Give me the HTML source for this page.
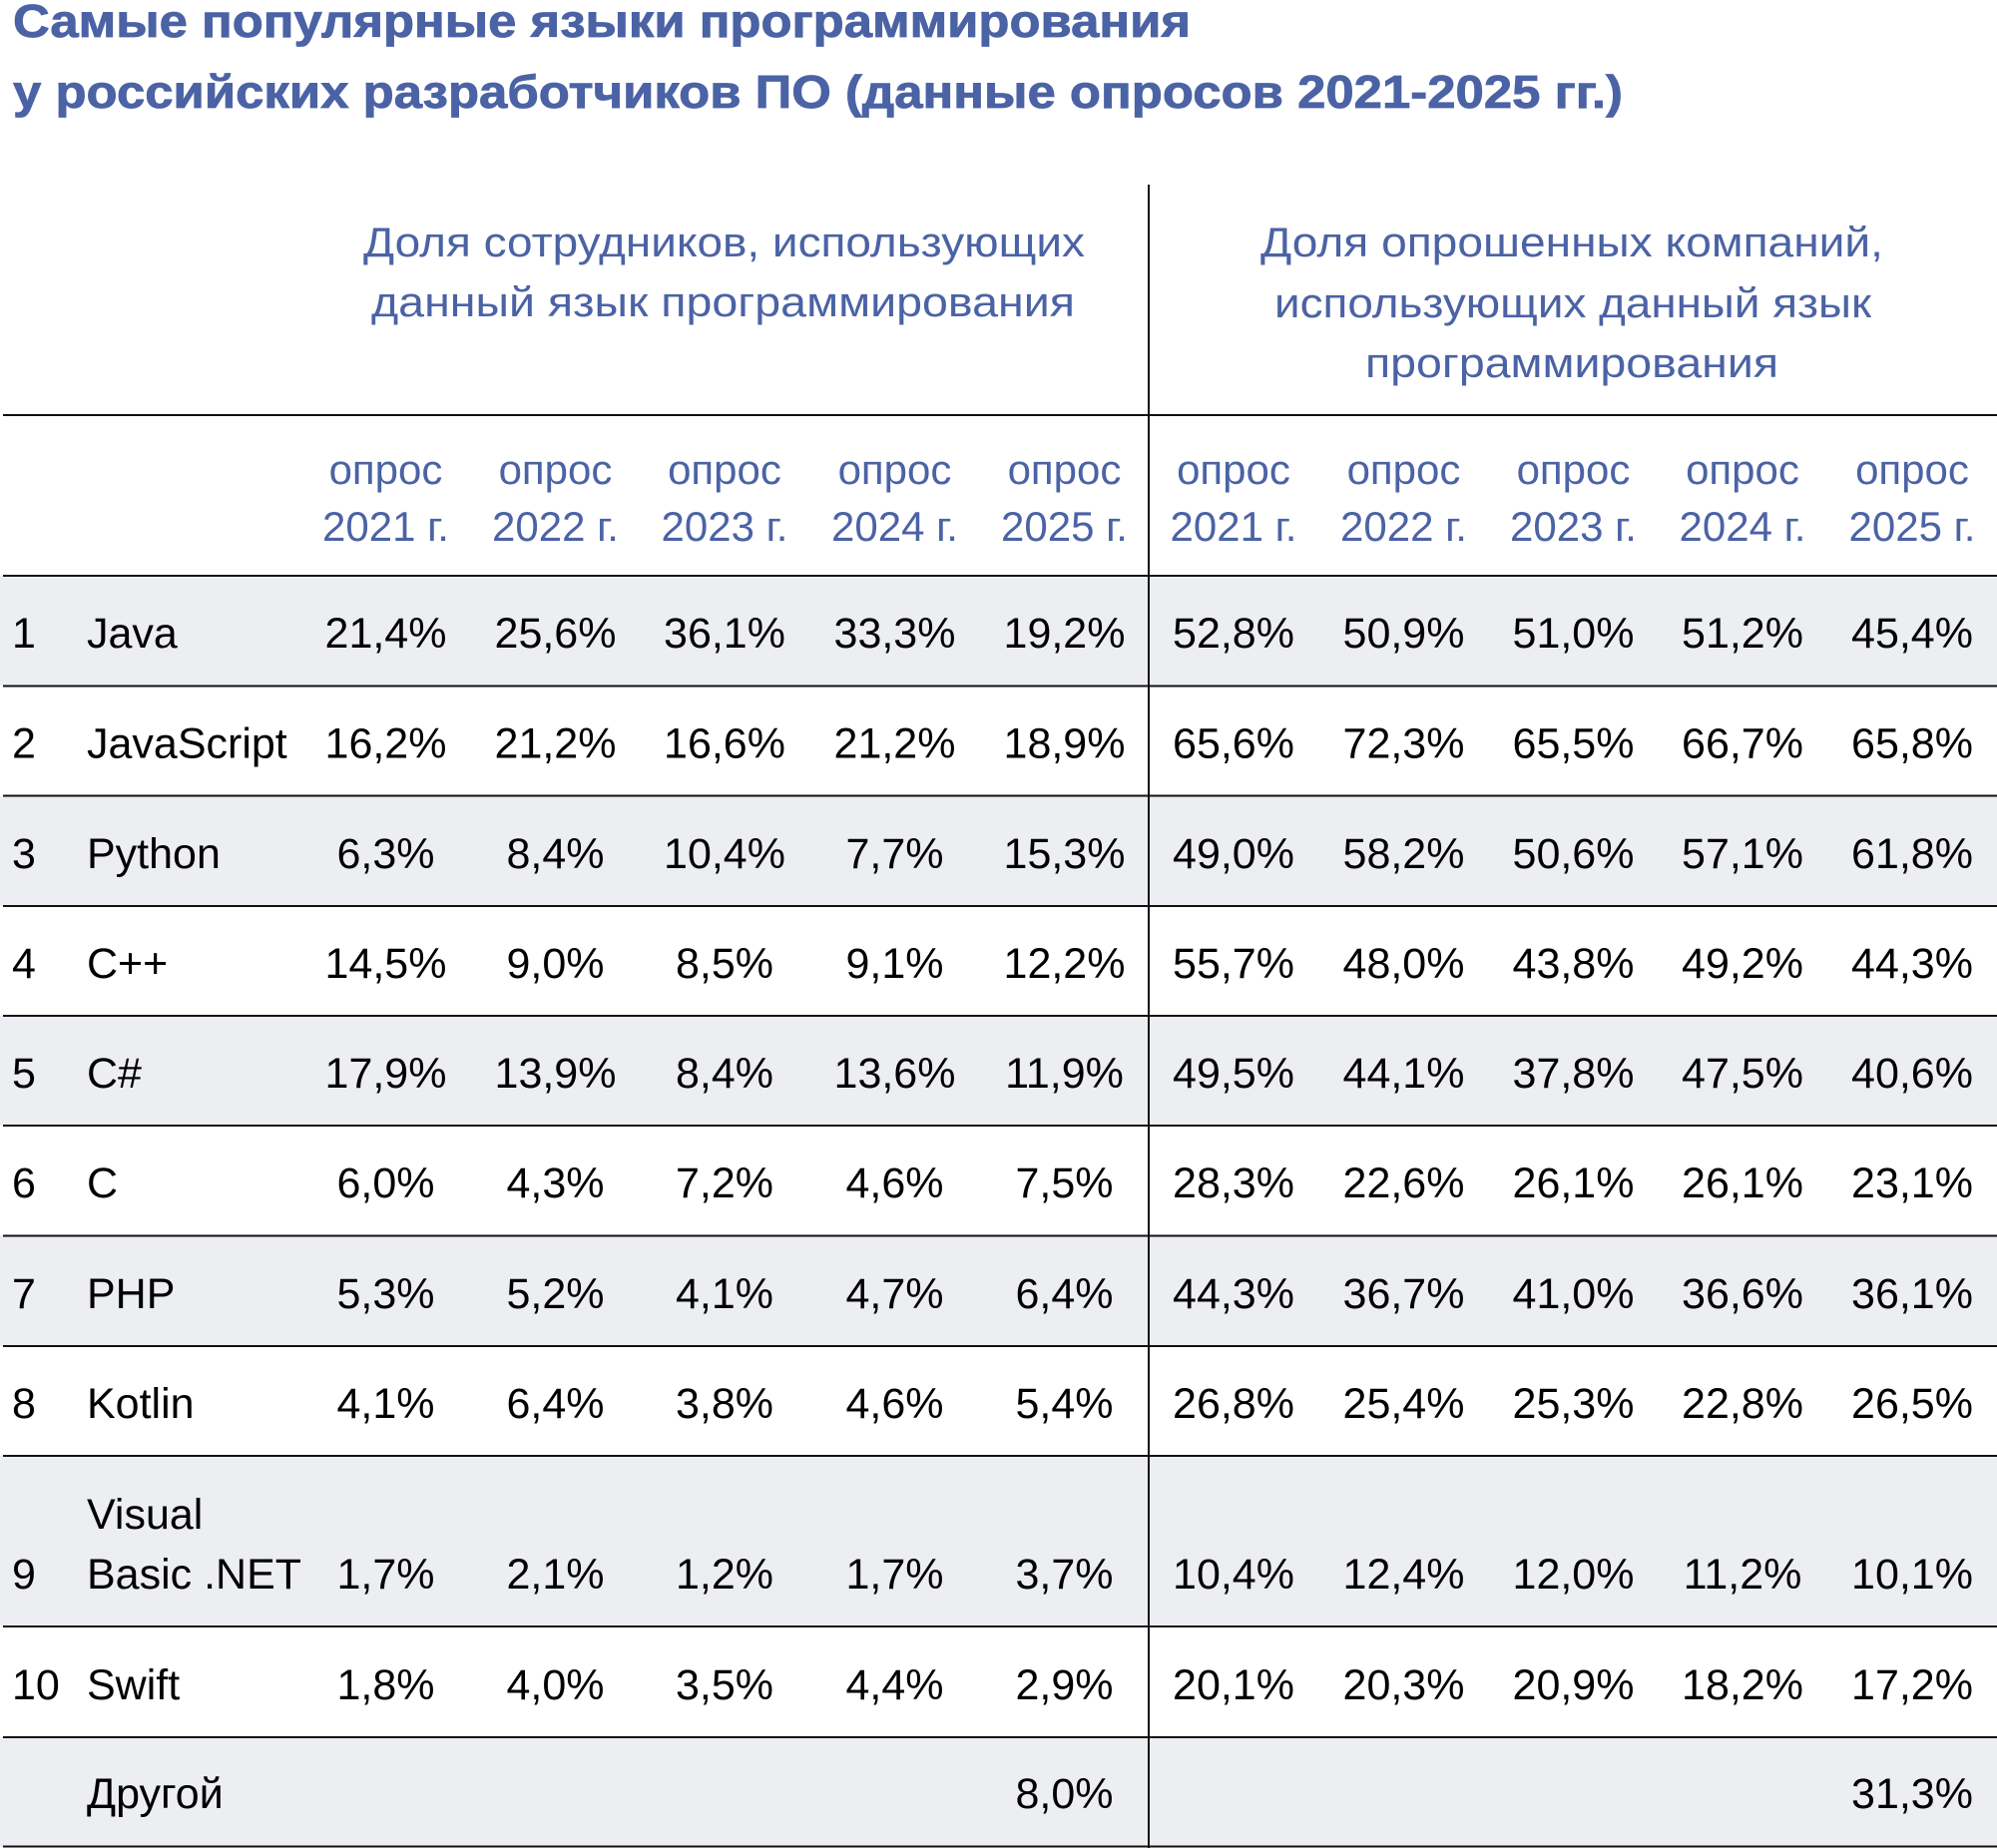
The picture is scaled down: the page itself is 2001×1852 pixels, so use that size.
<!DOCTYPE html>
<html><head><meta charset="utf-8"><style>
html,body{margin:0;padding:0;background:#fff}
svg{display:block}
</style></head><body>
<svg width="2001" height="1852" viewBox="0 0 2001 1852" xmlns="http://www.w3.org/2000/svg">
<rect x="0" y="0" width="2001" height="1852" fill="#fff"/>
<g fill="#edeef2">
<rect x="0" y="577" width="2001" height="110"/>
<rect x="0" y="798" width="2001" height="110"/>
<rect x="0" y="1018" width="2001" height="110"/>
<rect x="0" y="1238" width="2001" height="111"/>
<rect x="0" y="1459" width="2001" height="171"/>
<rect x="0" y="1741" width="2001" height="110"/>
</g>
<g stroke="#111" stroke-width="2">
<line x1="3" y1="416" x2="2001" y2="416"/>
<line x1="3" y1="577" x2="2001" y2="577"/>
<line x1="3" y1="687.5" x2="2001" y2="687.5"/>
<line x1="3" y1="797.5" x2="2001" y2="797.5"/>
<line x1="3" y1="908" x2="2001" y2="908"/>
<line x1="3" y1="1018" x2="2001" y2="1018"/>
<line x1="3" y1="1128" x2="2001" y2="1128"/>
<line x1="3" y1="1238.5" x2="2001" y2="1238.5"/>
<line x1="3" y1="1349" x2="2001" y2="1349"/>
<line x1="3" y1="1459" x2="2001" y2="1459"/>
<line x1="3" y1="1630" x2="2001" y2="1630"/>
<line x1="3" y1="1741" x2="2001" y2="1741"/>
<line x1="3" y1="1850.5" x2="2001" y2="1850.5"/>
<line x1="1151" y1="185" x2="1151" y2="1852"/>
</g>
<g font-family="'Liberation Sans', 'Noto Sans CJK SC', sans-serif" font-weight="bold" font-size="46" fill="#4b63a5" stroke="#4b63a5" stroke-width="0.8">
<text x="13" y="37" textLength="1180" lengthAdjust="spacingAndGlyphs">Самые популярные языки программирования</text>
<text x="13" y="108" textLength="1613" lengthAdjust="spacingAndGlyphs">у российских разработчиков ПО (данные опросов 2021-2025 гг.)</text>
</g>
<g font-family="'Liberation Sans', 'Noto Sans CJK SC', sans-serif" font-size="42" fill="#4b63a5">
<text x="364" y="257" textLength="723" lengthAdjust="spacingAndGlyphs">Доля сотрудников, использующих</text>
<text x="372" y="317" textLength="705" lengthAdjust="spacingAndGlyphs">данный язык программирования</text>
<text x="1263" y="257" textLength="624" lengthAdjust="spacingAndGlyphs">Доля опрошенных компаний,</text>
<text x="1277" y="318" textLength="598" lengthAdjust="spacingAndGlyphs">использующих данный язык</text>
<text x="1368" y="378" textLength="414" lengthAdjust="spacingAndGlyphs">программирования</text>
</g>
<g font-family="'Liberation Sans', 'Noto Sans CJK SC', sans-serif" font-size="42" fill="#4b63a5" text-anchor="middle">
<text x="386.5" y="485">опрос</text><text x="386.5" y="542">2021 г.</text>
<text x="556.5" y="485">опрос</text><text x="556.5" y="542">2022 г.</text>
<text x="726" y="485">опрос</text><text x="726" y="542">2023 г.</text>
<text x="896.5" y="485">опрос</text><text x="896.5" y="542">2024 г.</text>
<text x="1066.5" y="485">опрос</text><text x="1066.5" y="542">2025 г.</text>
<text x="1236" y="485">опрос</text><text x="1236" y="542">2021 г.</text>
<text x="1406.5" y="485">опрос</text><text x="1406.5" y="542">2022 г.</text>
<text x="1576.5" y="485">опрос</text><text x="1576.5" y="542">2023 г.</text>
<text x="1746" y="485">опрос</text><text x="1746" y="542">2024 г.</text>
<text x="1916" y="485">опрос</text><text x="1916" y="542">2025 г.</text>
</g>
<g font-family="'Liberation Sans', 'Noto Sans CJK SC', sans-serif" font-size="43" fill="#000">
<text x="12" y="649">1</text><text x="87" y="649">Java</text>
<text x="12" y="759.5">2</text><text x="87" y="759.5">JavaScript</text>
<text x="12" y="870">3</text><text x="87" y="870">Python</text>
<text x="12" y="980">4</text><text x="87" y="980">C++</text>
<text x="12" y="1090">5</text><text x="87" y="1090">C#</text>
<text x="12" y="1200">6</text><text x="87" y="1200">C</text>
<text x="12" y="1311">7</text><text x="87" y="1311">PHP</text>
<text x="12" y="1421">8</text><text x="87" y="1421">Kotlin</text>
<text x="87" y="1532">Visual</text>
<text x="12" y="1592">9</text><text x="87" y="1592">Basic .NET</text>
<text x="12" y="1703">10</text><text x="87" y="1703">Swift</text>
<text x="87" y="1812">Другой</text>
</g>
<g font-family="'Liberation Sans', 'Noto Sans CJK SC', sans-serif" font-size="43" fill="#000" text-anchor="middle">
<text x="386.5" y="649">21,4%</text><text x="556.5" y="649">25,6%</text><text x="726" y="649">36,1%</text><text x="896.5" y="649">33,3%</text><text x="1066.5" y="649">19,2%</text>
<text x="1236" y="649">52,8%</text><text x="1406.5" y="649">50,9%</text><text x="1576.5" y="649">51,0%</text><text x="1746" y="649">51,2%</text><text x="1916" y="649">45,4%</text>
<text x="386.5" y="759.5">16,2%</text><text x="556.5" y="759.5">21,2%</text><text x="726" y="759.5">16,6%</text><text x="896.5" y="759.5">21,2%</text><text x="1066.5" y="759.5">18,9%</text>
<text x="1236" y="759.5">65,6%</text><text x="1406.5" y="759.5">72,3%</text><text x="1576.5" y="759.5">65,5%</text><text x="1746" y="759.5">66,7%</text><text x="1916" y="759.5">65,8%</text>
<text x="386.5" y="870">6,3%</text><text x="556.5" y="870">8,4%</text><text x="726" y="870">10,4%</text><text x="896.5" y="870">7,7%</text><text x="1066.5" y="870">15,3%</text>
<text x="1236" y="870">49,0%</text><text x="1406.5" y="870">58,2%</text><text x="1576.5" y="870">50,6%</text><text x="1746" y="870">57,1%</text><text x="1916" y="870">61,8%</text>
<text x="386.5" y="980">14,5%</text><text x="556.5" y="980">9,0%</text><text x="726" y="980">8,5%</text><text x="896.5" y="980">9,1%</text><text x="1066.5" y="980">12,2%</text>
<text x="1236" y="980">55,7%</text><text x="1406.5" y="980">48,0%</text><text x="1576.5" y="980">43,8%</text><text x="1746" y="980">49,2%</text><text x="1916" y="980">44,3%</text>
<text x="386.5" y="1090">17,9%</text><text x="556.5" y="1090">13,9%</text><text x="726" y="1090">8,4%</text><text x="896.5" y="1090">13,6%</text><text x="1066.5" y="1090">11,9%</text>
<text x="1236" y="1090">49,5%</text><text x="1406.5" y="1090">44,1%</text><text x="1576.5" y="1090">37,8%</text><text x="1746" y="1090">47,5%</text><text x="1916" y="1090">40,6%</text>
<text x="386.5" y="1200">6,0%</text><text x="556.5" y="1200">4,3%</text><text x="726" y="1200">7,2%</text><text x="896.5" y="1200">4,6%</text><text x="1066.5" y="1200">7,5%</text>
<text x="1236" y="1200">28,3%</text><text x="1406.5" y="1200">22,6%</text><text x="1576.5" y="1200">26,1%</text><text x="1746" y="1200">26,1%</text><text x="1916" y="1200">23,1%</text>
<text x="386.5" y="1311">5,3%</text><text x="556.5" y="1311">5,2%</text><text x="726" y="1311">4,1%</text><text x="896.5" y="1311">4,7%</text><text x="1066.5" y="1311">6,4%</text>
<text x="1236" y="1311">44,3%</text><text x="1406.5" y="1311">36,7%</text><text x="1576.5" y="1311">41,0%</text><text x="1746" y="1311">36,6%</text><text x="1916" y="1311">36,1%</text>
<text x="386.5" y="1421">4,1%</text><text x="556.5" y="1421">6,4%</text><text x="726" y="1421">3,8%</text><text x="896.5" y="1421">4,6%</text><text x="1066.5" y="1421">5,4%</text>
<text x="1236" y="1421">26,8%</text><text x="1406.5" y="1421">25,4%</text><text x="1576.5" y="1421">25,3%</text><text x="1746" y="1421">22,8%</text><text x="1916" y="1421">26,5%</text>
<text x="386.5" y="1592">1,7%</text><text x="556.5" y="1592">2,1%</text><text x="726" y="1592">1,2%</text><text x="896.5" y="1592">1,7%</text><text x="1066.5" y="1592">3,7%</text>
<text x="1236" y="1592">10,4%</text><text x="1406.5" y="1592">12,4%</text><text x="1576.5" y="1592">12,0%</text><text x="1746" y="1592">11,2%</text><text x="1916" y="1592">10,1%</text>
<text x="386.5" y="1703">1,8%</text><text x="556.5" y="1703">4,0%</text><text x="726" y="1703">3,5%</text><text x="896.5" y="1703">4,4%</text><text x="1066.5" y="1703">2,9%</text>
<text x="1236" y="1703">20,1%</text><text x="1406.5" y="1703">20,3%</text><text x="1576.5" y="1703">20,9%</text><text x="1746" y="1703">18,2%</text><text x="1916" y="1703">17,2%</text>
<text x="1066.5" y="1812">8,0%</text>
<text x="1916" y="1812">31,3%</text>
</g>
</svg>
</body></html>
